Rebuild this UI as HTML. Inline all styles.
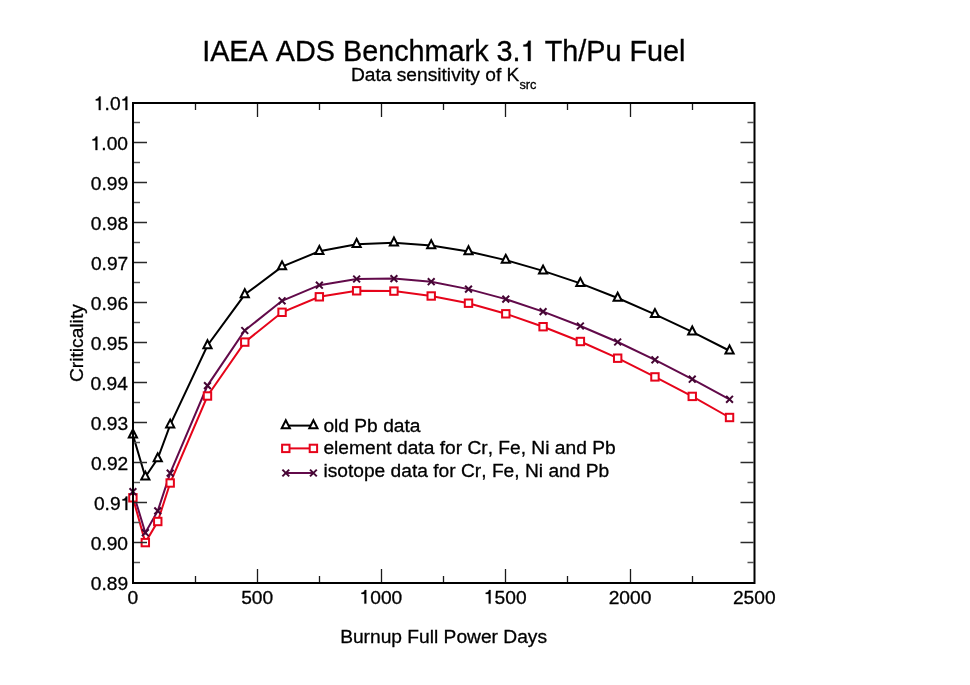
<!DOCTYPE html>
<html><head><meta charset="utf-8"><title>IAEA ADS Benchmark 3.1 Th/Pu Fuel</title>
<style>html,body{margin:0;padding:0;background:#fff;width:970px;height:685px;overflow:hidden}svg{display:block;will-change:transform}text{font-family:"Liberation Sans",sans-serif;font-kerning:none}.h{fill:none;stroke:none}</style>
</head><body>
<svg width="970" height="685" viewBox="0 0 970 685">
<rect width="970" height="685" fill="#fff"/>
<g id="data">
<polyline points="132.90,434.85 145.33,476.95 157.76,458.65 170.19,424.95 207.48,345.50 244.77,294.55 282.06,266.65 319.35,251.25 356.64,244.30 393.93,242.75 431.22,245.55 468.51,251.50 505.80,260.15 543.09,270.90 580.38,283.40 617.67,298.00 654.96,314.40 692.25,331.85 729.54,350.75" fill="none" stroke="#000" stroke-width="2"/>
<polyline points="132.90,497.80 145.33,542.60 157.76,521.50 170.19,483.00 207.48,396.00 244.77,342.10 282.06,312.30 319.35,296.80 356.64,290.80 393.93,291.10 431.22,296.00 468.51,303.20 505.80,313.80 543.09,326.70 580.38,341.50 617.67,358.20 654.96,376.90 692.25,396.40 729.54,417.50" fill="none" stroke="#e6041a" stroke-width="2"/>
<polyline points="132.90,491.70 145.33,532.70 157.76,510.90 170.19,473.10 207.48,385.60 244.77,330.50 282.06,300.80 319.35,285.20 356.64,279.00 393.93,278.60 431.22,281.70 468.51,289.10 505.80,299.10 543.09,311.60 580.38,326.00 617.67,342.00 654.96,359.80 692.25,379.20 729.54,399.30" fill="none" stroke="#620a4a" stroke-width="2"/>
<path d="M132.90 429.52L128.80 437.52L137.00 437.52Z" fill="#fff" stroke="#000" stroke-width="2"/>
<path d="M145.33 471.62L141.23 479.62L149.43 479.62Z" fill="#fff" stroke="#000" stroke-width="2"/>
<path d="M157.76 453.32L153.66 461.32L161.86 461.32Z" fill="#fff" stroke="#000" stroke-width="2"/>
<path d="M170.19 419.62L166.09 427.62L174.29 427.62Z" fill="#fff" stroke="#000" stroke-width="2"/>
<path d="M207.48 340.17L203.38 348.17L211.58 348.17Z" fill="#fff" stroke="#000" stroke-width="2"/>
<path d="M244.77 289.22L240.67 297.22L248.87 297.22Z" fill="#fff" stroke="#000" stroke-width="2"/>
<path d="M282.06 261.32L277.96 269.32L286.16 269.32Z" fill="#fff" stroke="#000" stroke-width="2"/>
<path d="M319.35 245.92L315.25 253.92L323.45 253.92Z" fill="#fff" stroke="#000" stroke-width="2"/>
<path d="M356.64 238.97L352.54 246.97L360.74 246.97Z" fill="#fff" stroke="#000" stroke-width="2"/>
<path d="M393.93 237.42L389.83 245.42L398.03 245.42Z" fill="#fff" stroke="#000" stroke-width="2"/>
<path d="M431.22 240.22L427.12 248.22L435.32 248.22Z" fill="#fff" stroke="#000" stroke-width="2"/>
<path d="M468.51 246.17L464.41 254.17L472.61 254.17Z" fill="#fff" stroke="#000" stroke-width="2"/>
<path d="M505.80 254.82L501.70 262.82L509.90 262.82Z" fill="#fff" stroke="#000" stroke-width="2"/>
<path d="M543.09 265.57L538.99 273.57L547.19 273.57Z" fill="#fff" stroke="#000" stroke-width="2"/>
<path d="M580.38 278.07L576.28 286.07L584.48 286.07Z" fill="#fff" stroke="#000" stroke-width="2"/>
<path d="M617.67 292.67L613.57 300.67L621.77 300.67Z" fill="#fff" stroke="#000" stroke-width="2"/>
<path d="M654.96 309.07L650.86 317.07L659.06 317.07Z" fill="#fff" stroke="#000" stroke-width="2"/>
<path d="M692.25 326.52L688.15 334.52L696.35 334.52Z" fill="#fff" stroke="#000" stroke-width="2"/>
<path d="M729.54 345.42L725.44 353.42L733.64 353.42Z" fill="#fff" stroke="#000" stroke-width="2"/>
<rect x="129.20" y="494.10" width="7.4" height="7.4" fill="#fff" stroke="#e6041a" stroke-width="2"/>
<rect x="141.63" y="538.90" width="7.4" height="7.4" fill="#fff" stroke="#e6041a" stroke-width="2"/>
<rect x="154.06" y="517.80" width="7.4" height="7.4" fill="#fff" stroke="#e6041a" stroke-width="2"/>
<rect x="166.49" y="479.30" width="7.4" height="7.4" fill="#fff" stroke="#e6041a" stroke-width="2"/>
<rect x="203.78" y="392.30" width="7.4" height="7.4" fill="#fff" stroke="#e6041a" stroke-width="2"/>
<rect x="241.07" y="338.40" width="7.4" height="7.4" fill="#fff" stroke="#e6041a" stroke-width="2"/>
<rect x="278.36" y="308.60" width="7.4" height="7.4" fill="#fff" stroke="#e6041a" stroke-width="2"/>
<rect x="315.65" y="293.10" width="7.4" height="7.4" fill="#fff" stroke="#e6041a" stroke-width="2"/>
<rect x="352.94" y="287.10" width="7.4" height="7.4" fill="#fff" stroke="#e6041a" stroke-width="2"/>
<rect x="390.23" y="287.40" width="7.4" height="7.4" fill="#fff" stroke="#e6041a" stroke-width="2"/>
<rect x="427.52" y="292.30" width="7.4" height="7.4" fill="#fff" stroke="#e6041a" stroke-width="2"/>
<rect x="464.81" y="299.50" width="7.4" height="7.4" fill="#fff" stroke="#e6041a" stroke-width="2"/>
<rect x="502.10" y="310.10" width="7.4" height="7.4" fill="#fff" stroke="#e6041a" stroke-width="2"/>
<rect x="539.39" y="323.00" width="7.4" height="7.4" fill="#fff" stroke="#e6041a" stroke-width="2"/>
<rect x="576.68" y="337.80" width="7.4" height="7.4" fill="#fff" stroke="#e6041a" stroke-width="2"/>
<rect x="613.97" y="354.50" width="7.4" height="7.4" fill="#fff" stroke="#e6041a" stroke-width="2"/>
<rect x="651.26" y="373.20" width="7.4" height="7.4" fill="#fff" stroke="#e6041a" stroke-width="2"/>
<rect x="688.55" y="392.70" width="7.4" height="7.4" fill="#fff" stroke="#e6041a" stroke-width="2"/>
<rect x="725.84" y="413.80" width="7.4" height="7.4" fill="#fff" stroke="#e6041a" stroke-width="2"/>
<path d="M129.50 488.30L136.30 495.10M129.50 495.10L136.30 488.30" stroke="#450634" stroke-width="2" fill="none"/>
<path d="M141.93 529.30L148.73 536.10M141.93 536.10L148.73 529.30" stroke="#450634" stroke-width="2" fill="none"/>
<path d="M154.36 507.50L161.16 514.30M154.36 514.30L161.16 507.50" stroke="#450634" stroke-width="2" fill="none"/>
<path d="M166.79 469.70L173.59 476.50M166.79 476.50L173.59 469.70" stroke="#450634" stroke-width="2" fill="none"/>
<path d="M204.08 382.20L210.88 389.00M204.08 389.00L210.88 382.20" stroke="#450634" stroke-width="2" fill="none"/>
<path d="M241.37 327.10L248.17 333.90M241.37 333.90L248.17 327.10" stroke="#450634" stroke-width="2" fill="none"/>
<path d="M278.66 297.40L285.46 304.20M278.66 304.20L285.46 297.40" stroke="#450634" stroke-width="2" fill="none"/>
<path d="M315.95 281.80L322.75 288.60M315.95 288.60L322.75 281.80" stroke="#450634" stroke-width="2" fill="none"/>
<path d="M353.24 275.60L360.04 282.40M353.24 282.40L360.04 275.60" stroke="#450634" stroke-width="2" fill="none"/>
<path d="M390.53 275.20L397.33 282.00M390.53 282.00L397.33 275.20" stroke="#450634" stroke-width="2" fill="none"/>
<path d="M427.82 278.30L434.62 285.10M427.82 285.10L434.62 278.30" stroke="#450634" stroke-width="2" fill="none"/>
<path d="M465.11 285.70L471.91 292.50M465.11 292.50L471.91 285.70" stroke="#450634" stroke-width="2" fill="none"/>
<path d="M502.40 295.70L509.20 302.50M502.40 302.50L509.20 295.70" stroke="#450634" stroke-width="2" fill="none"/>
<path d="M539.69 308.20L546.49 315.00M539.69 315.00L546.49 308.20" stroke="#450634" stroke-width="2" fill="none"/>
<path d="M576.98 322.60L583.78 329.40M576.98 329.40L583.78 322.60" stroke="#450634" stroke-width="2" fill="none"/>
<path d="M614.27 338.60L621.07 345.40M614.27 345.40L621.07 338.60" stroke="#450634" stroke-width="2" fill="none"/>
<path d="M651.56 356.40L658.36 363.20M651.56 363.20L658.36 356.40" stroke="#450634" stroke-width="2" fill="none"/>
<path d="M688.85 375.80L695.65 382.60M688.85 382.60L695.65 375.80" stroke="#450634" stroke-width="2" fill="none"/>
<path d="M726.14 395.90L732.94 402.70M726.14 402.70L732.94 395.90" stroke="#450634" stroke-width="2" fill="none"/>
</g>
<g id="frame">
<path d="M134 542.5h13M753.5 542.5h-13M134 502.5h13M753.5 502.5h-13M134 462.5h13M753.5 462.5h-13M134 422.5h13M753.5 422.5h-13M134 382.5h13M753.5 382.5h-13M134 342.5h13M753.5 342.5h-13M134 302.5h13M753.5 302.5h-13M134 262.5h13M753.5 262.5h-13M134 222.5h13M753.5 222.5h-13M134 182.5h13M753.5 182.5h-13M134 142.5h13M753.5 142.5h-13" stroke="#2a2a2a" stroke-width="1.3" fill="none"/>
<path d="M134 562.5h6M753.5 562.5h-6M134 522.5h6M753.5 522.5h-6M134 482.5h6M753.5 482.5h-6M134 442.5h6M753.5 442.5h-6M134 402.5h6M753.5 402.5h-6M134 362.5h6M753.5 362.5h-6M134 322.5h6M753.5 322.5h-6M134 282.5h6M753.5 282.5h-6M134 242.5h6M753.5 242.5h-6M134 202.5h6M753.5 202.5h-6M134 162.5h6M753.5 162.5h-6M134 122.5h6M753.5 122.5h-6" stroke="#555" stroke-width="1.4" fill="none"/>
<path d="M195.5 582v-6M195.5 104v6M257.5 582v-13M257.5 104v13M319.5 582v-6M319.5 104v6M381.5 582v-13M381.5 104v13M443.5 582v-6M443.5 104v6M505.5 582v-13M505.5 104v13M567.5 582v-6M567.5 104v6M630.5 582v-13M630.5 104v13M692.5 582v-6M692.5 104v6" stroke="#1a1a1a" stroke-width="1.3" fill="none"/>
<rect x="133" y="103" width="621.5" height="480" fill="none" stroke="#000" stroke-width="2"/>
</g>
<g id="legend">
<path d="M285.8 425.6H313.4" stroke="#000" stroke-width="2"/>
<path d="M285.80 420.27L281.70 428.27L289.90 428.27Z" fill="#fff" stroke="#000" stroke-width="2"/>
<path d="M313.40 420.27L309.30 428.27L317.50 428.27Z" fill="#fff" stroke="#000" stroke-width="2"/>
<path d="M285.8 448.4H313.4" stroke="#e6041a" stroke-width="2"/>
<rect x="282.10" y="444.70" width="7.4" height="7.4" fill="#fff" stroke="#e6041a" stroke-width="2"/>
<rect x="309.70" y="444.70" width="7.4" height="7.4" fill="#fff" stroke="#e6041a" stroke-width="2"/>
<path d="M285.8 473H313.4" stroke="#620a4a" stroke-width="2"/>
<path d="M282.40 469.60L289.20 476.40M282.40 476.40L289.20 469.60" stroke="#450634" stroke-width="2" fill="none"/>
<path d="M310.00 469.60L316.80 476.40M310.00 476.40L316.80 469.60" stroke="#450634" stroke-width="2" fill="none"/>
</g>
<g id="text" font-family="Liberation Sans, sans-serif" font-size="19.2" fill="#000" stroke="#000" stroke-width="0.3">
<text x="90.84" y="590.1">0.89</text>
<text x="90.68" y="550.1">0.90</text>
<text x="93.95" y="510.1">0.9<tspan class="h">1</tspan></text>
<text x="90.90" y="470.1">0.92</text>
<text x="90.78" y="430.1">0.93</text>
<text x="90.49" y="390.1">0.94</text>
<text x="90.74" y="350.1">0.95</text>
<text x="90.78" y="310.1">0.96</text>
<text x="90.90" y="270.1">0.97</text>
<text x="90.77" y="230.1">0.98</text>
<text x="90.84" y="190.1">0.99</text>
<text x="90.68" y="150.1"><tspan class="h">1</tspan>.00</text>
<text x="93.95" y="110.1"><tspan class="h">1</tspan>.0<tspan class="h">1</tspan></text>
<text x="127.56" y="603.6">0</text>
<text x="241.17" y="603.6">500</text>
<text x="359.61" y="603.6"><tspan class="h">1</tspan>000</text>
<text x="483.91" y="603.6"><tspan class="h">1</tspan>500</text>
<text x="608.64" y="603.6">2000</text>
<text x="732.94" y="603.6">2500</text>
<text x="340.15" y="643.2">Burnup Full Power Days</text>
<text transform="translate(83.4 343.1) rotate(-90)" text-anchor="middle">Criticality</text>
<text x="202.13" y="61" font-size="28.8">IAEA ADS Benchmark 3.<tspan class="h">1</tspan> Th/Pu Fuel</text>
<text x="350.9" y="81">Data sensitivity of K<tspan font-size="12.8" y="88.7">src</tspan></text>
<text x="323.40" y="432.4">old Pb data</text>
<text x="323.40" y="453.9">element data for Cr, Fe, Ni and Pb</text>
<text x="323.40" y="477.4">isotope data for Cr, Fe, Ni and Pb</text>
<path d="M127.30 496.60L127.30 510.10L125.48 510.10L125.48 500.40L122.46 500.40L122.46 499.19C124.29 499.16 125.34 498.39 125.78 496.60ZM97.34 136.60L97.34 150.10L95.52 150.10L95.52 140.40L92.51 140.40L92.51 139.19C94.33 139.16 95.39 138.39 95.83 136.60ZM100.61 96.60L100.61 110.10L98.79 110.10L98.79 100.40L95.77 100.40L95.77 99.19C97.59 99.16 98.65 98.39 99.09 96.60ZM127.30 96.60L127.30 110.10L125.48 110.10L125.48 100.40L122.46 100.40L122.46 99.19C124.29 99.16 125.34 98.39 125.78 96.60ZM366.27 590.10L366.27 603.60L364.45 603.60L364.45 593.90L361.43 593.90L361.43 592.69C363.25 592.66 364.31 591.89 364.75 590.10ZM490.57 590.10L490.57 603.60L488.75 603.60L488.75 593.90L485.73 593.90L485.73 592.69C487.55 592.66 488.61 591.89 489.05 590.10ZM530.65 40.75L530.65 61.00L527.92 61.00L527.92 46.46L523.39 46.46L523.39 44.64C526.13 44.58 527.71 43.43 528.38 40.75Z"/>
</g>
</svg>
</body></html>
